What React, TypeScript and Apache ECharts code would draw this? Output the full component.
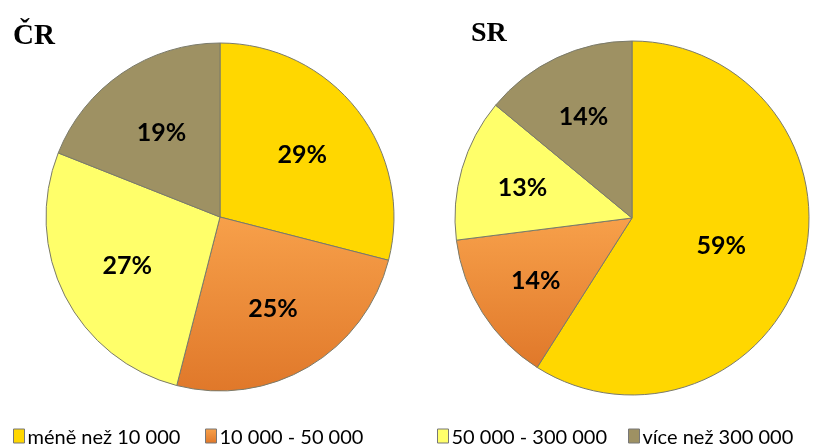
import React, { useEffect, useRef } from "react";
import * as echarts from "echarts";

const categories = ["méně než 10 000", "10 000 - 50 000", "50 000 - 300 000", "více než 300 000"];
const crValues = [29, 25, 27, 19];
const srValues = [59, 14, 13, 14];
const titles = ["ČR", "SR"];
const colors = ["#FFD700", "#F08C30", "#FFFF6A", "#9E9163"];

export default function App() {
  const ref = useRef<HTMLDivElement>(null);
  useEffect(() => {
    if (!ref.current) return;
    const chart = echarts.init(ref.current, null, { renderer: "svg" });
    const fillFor = (i: number) =>
      i === 1
        ? new echarts.graphic.LinearGradient(0, 0, 0, 1, [
            { offset: 0, color: "#F7A04A" },
            { offset: 1, color: "#E0782A" },
          ])
        : colors[i];
    const mkData = (vals: number[]) =>
      vals.map((v, i) => ({
        name: categories[i],
        value: v,
        itemStyle: { color: fillFor(i) },
      }));
    const labelStyle = {
      show: true,
      position: "inside" as const,
      formatter: "{c}%",
      fontFamily: "Lato, 'Open Sans', sans-serif",
      fontWeight: "bold" as const,
      fontSize: 25,
      color: "#000",
    };
    const mainBase = {
      type: "pie" as const,
      startAngle: 90,
      clockwise: true,
      label: { show: false },
      labelLine: { show: false },
      itemStyle: { borderColor: "#7a7a6a", borderWidth: 1 },
      emphasis: { disabled: true },
      silent: true,
    };
    const overlay = (center: number[], r: number, vals: number[], showIdx: number[]) => ({
      type: "pie" as const,
      startAngle: 90,
      clockwise: true,
      center,
      radius: [0, r],
      silent: true,
      emphasis: { disabled: true },
      labelLine: { show: false },
      label: labelStyle,
      data: vals.map((v, i) => ({
        name: "_" + categories[i],
        value: v,
        itemStyle: { color: "rgba(0,0,0,0)", borderWidth: 0 },
        label: { show: showIdx.includes(i) },
      })),
    });
    const legendLefts = [13, 205, 437, 628];
    chart.setOption({
      animation: false,
      title: [
        {
          text: titles[0],
          left: 8,
          top: 14,
          textStyle: { fontFamily: "'Liberation Serif', serif", fontWeight: "bold", fontSize: 29, color: "#000" },
        },
        {
          text: titles[1],
          left: 466,
          top: 12,
          textStyle: { fontFamily: "'Liberation Serif', serif", fontWeight: "bold", fontSize: 28, color: "#000" },
        },
      ],
      legend: categories.map((c, i) => ({
        data: [c],
        left: legendLefts[i],
        top: 426,
        padding: 0,
        itemWidth: 11,
        itemHeight: 14,
        itemGap: 4,
        icon: "rect",
        itemStyle: { borderColor: "#777", borderWidth: 1 },
        textStyle: { fontFamily: "Lato, sans-serif", fontSize: 20, lineHeight: 18, color: "#000", padding: [0, 0, 0, -2] },
        selectedMode: false,
      })),
      series: [
        { ...mainBase, name: titles[0], center: [220, 217], radius: [0, 174], data: mkData(crValues) },
        { ...mainBase, name: titles[1], center: [632, 218], radius: [0, 177], data: mkData(srValues) },
        overlay([220, 217], 202, crValues, [0, 1, 2, 3]),
        overlay([632, 218], 180, srValues, [0]),
        overlay([632, 218], 222, srValues, [1, 2, 3]),
      ],
    });
    return () => chart.dispose();
  }, []);
  return <div ref={ref} style={{ position: "fixed", left: 0, top: 0, width: 816, height: 448 }} />;
}
